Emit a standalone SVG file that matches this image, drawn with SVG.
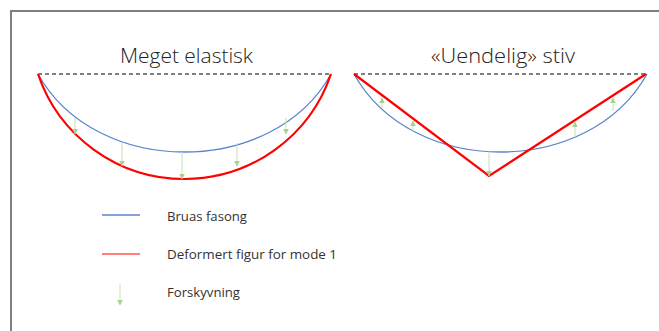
<svg xmlns="http://www.w3.org/2000/svg" width="659" height="331" viewBox="0 0 659 331">
<defs>
<marker id="ah" viewBox="0 0 10 10" refX="9" refY="5" markerWidth="6" markerHeight="6" markerUnits="userSpaceOnUse" orient="auto">
<path d="M0,0 L10,5 L0,10 z" fill="#a9d18e"/>
</marker>
<style>
.frame{fill:none;stroke:#7f7f7f;stroke-width:2}
.dash{fill:none;stroke:#000;stroke-width:1;stroke-dasharray:4 3}
.blue{fill:none;stroke:#5b84cc;stroke-width:1.3}
.red{fill:none;stroke:#ff0000;stroke-width:2.2;stroke-linejoin:miter}
.arr{fill:none;stroke:#c5e0b4;stroke-width:1;marker-end:url(#ah)}
.title{font-family:"Open Sans",Lato,sans-serif;font-weight:300;font-size:19.5px;fill:#222;text-anchor:middle}
.leg{font-family:"Open Sans",Lato,sans-serif;font-size:13px;fill:#333}
</style>
</defs>
<path class="frame" d="M11,331 V11 H659"/>
<g id="left-diagram">
<text class="title" x="186.5" y="63" textLength="133" lengthAdjust="spacingAndGlyphs">Meget elastisk</text>
<line class="dash" x1="38" y1="74" x2="331" y2="74"/>
<path class="blue" d="M38,74 C95.6,178 273.4,178 331,74"/>
<path class="red" d="M38,74 A154.7,154.7 0 0 0 331,74"/>
</g>
<g id="right-diagram">
<text class="title" x="503" y="63" textLength="144" lengthAdjust="spacingAndGlyphs">«Uendelig» stiv</text>
<line class="dash" x1="354" y1="74" x2="647" y2="74"/>
<path class="blue" d="M354,74 C411.6,178 589.4,178 647,74"/>
<path class="red" d="M354,74 L489,176 L646,74"/>
</g>
<g id="connectors">
<line class="arr" x1="75" y1="118" x2="75" y2="134"/>
<line class="arr" x1="122" y1="143" x2="122" y2="166"/>
<line class="arr" x1="182" y1="152" x2="182" y2="179"/>
<line class="arr" x1="237" y1="143" x2="237" y2="166"/>
<line class="arr" x1="286" y1="118" x2="286" y2="134"/>
<line class="arr" x1="489" y1="153" x2="489" y2="176"/>
<line class="arr" x1="382" y1="108" x2="382" y2="98"/>
<line class="arr" x1="413" y1="131" x2="413" y2="121"/>
<line class="arr" x1="575" y1="137" x2="575" y2="122"/>
<line class="arr" x1="613" y1="111" x2="613" y2="98"/>
</g>
<g id="legend-blue">
<line x1="102" y1="215" x2="140" y2="215" stroke="#5b84cc" stroke-width="1.3"/>
<text class="leg" x="167" y="221" textLength="80" lengthAdjust="spacingAndGlyphs">Bruas fasong</text>
</g>
<g id="legend-red">
<line x1="102" y1="254" x2="140" y2="254" stroke="#ff0000" stroke-width="1"/>
<text class="leg" x="167" y="259" textLength="170" lengthAdjust="spacingAndGlyphs">Deformert figur for mode 1</text>
</g>
<g id="legend-arrow">
<line class="arr" x1="120" y1="284" x2="120" y2="305"/>
<text class="leg" x="167" y="297" textLength="73" lengthAdjust="spacingAndGlyphs">Forskyvning</text>
</g>
</svg>
